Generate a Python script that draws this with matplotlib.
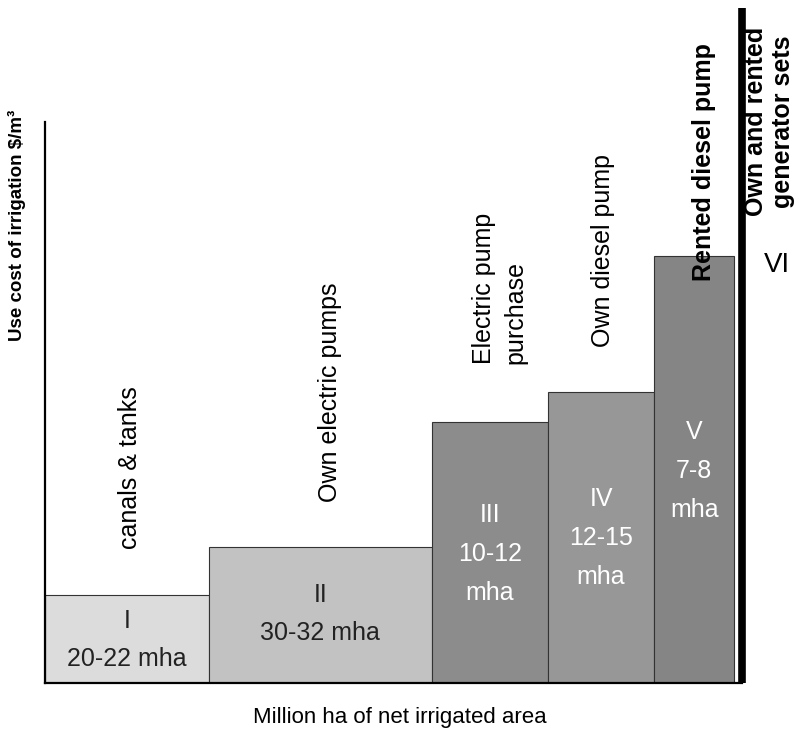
import matplotlib
matplotlib.use('Agg')
import matplotlib.pyplot as plt

plt.rcParams['font.family'] = ['Liberation Sans', 'DejaVu Sans']

# stages of irrigation: width ~ area served, height ~ use cost
stages = ['I', 'II', 'III', 'IV', 'V']
areas = ['20-22 mha', '30-32 mha', '10-12\nmha', '12-15\nmha', '7-8\nmha']
widths = [21.0, 28.6, 14.9, 13.6, 10.3]
costs = [0.91, 1.40, 2.69, 3.00, 4.40]
sources = ['canals & tanks', 'Own electric pumps', 'Electric pump\npurchase',
           'Own diesel pump', 'Rented diesel pump']

colors = ['#dcdcdc', '#c2c2c2', '#8c8c8c', '#979797', '#858585']
txt_colors = ['#222222', '#222222', 'white', 'white', 'white']
label_y = [0.443, 0.711, 1.33, 1.495, 2.186]
src_pos = [(10.9, 2.22), (36.5, 3.0), (58.3, 4.07), (71.5, 4.46), (84.5, 5.37)]

fig = plt.figure(figsize=(7.99, 7.30), dpi=100)
ax = fig.add_axes([45/799, 47/730, 754/799, 683/730])
ax.set_xlim(0, 96.67)
ax.set_ylim(0, 7.04)

lefts = [sum(widths[:i]) for i in range(len(widths))]
ax.bar(lefts, costs, width=widths, align='edge', color=colors,
       edgecolor='#333333', linewidth=0.8, zorder=2)

for i in range(len(stages)):
    cx = lefts[i] + widths[i] / 2
    ax.text(cx, label_y[i], stages[i] + '\n' + areas[i], ha='center', va='center',
            fontsize=18, color=txt_colors[i], linespacing=1.78, zorder=3)

for i in range(len(sources)):
    x, y = src_pos[i]
    bold = 'bold' if i == 4 else 'normal'
    ax.text(x, y, sources[i], rotation=90, ha='center', va='center',
            fontsize=18, fontweight=bold, multialignment='left',
            linespacing=1.35, zorder=4)

# stage VI: boundary line and labels
right_end = sum(widths) + 1.0
ax.plot([right_end, right_end], [0, 6.96], color='black', linewidth=5.5,
        solid_capstyle='butt', clip_on=False, zorder=3)
ax.text(92.9, 5.79, 'Own and rented\ngenerator sets', rotation=90, ha='center',
        va='center', fontsize=18, fontweight='bold', zorder=4)
ax.text(93.8, 4.31, 'VI', ha='center', va='center', fontsize=20)

for s in ['top', 'right']:
    ax.spines[s].set_visible(False)
ax.spines['left'].set_bounds(0, 5.78)
ax.spines['bottom'].set_bounds(0, right_end)
ax.spines['left'].set_linewidth(1.6)
ax.spines['bottom'].set_linewidth(1.6)
ax.set_xticks([])
ax.set_yticks([])
ax.patch.set_alpha(0)

fig.text(17/799, 1 - 225/730, 'Use cost of irrigation $/m³', rotation=90,
         ha='center', va='center', fontsize=13.5, fontweight='bold')
fig.text(400/799, 1 - 718/730, 'Million ha of net irrigated area',
         ha='center', va='center', fontsize=16)

fig.savefig('out.png', dpi=100)
